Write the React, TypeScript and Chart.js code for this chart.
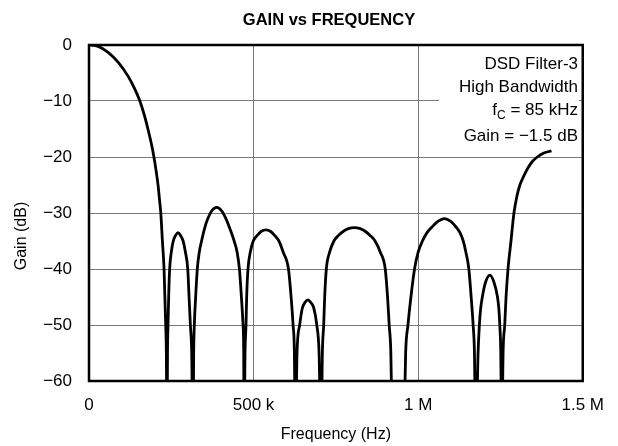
import React, { useEffect, useRef } from 'react';
import { Chart, registerables } from 'chart.js';

Chart.register(...registerables);

// Frequency in kHz and gain in dB (null = below the plot, gap)
const freqKHz: number[] = [
  // main lobe
  0, 3, 28, 58, 89, 119, 137, 154, 168, 179, 189, 197, 204, 210, 214, 218, 223, 228, 233, 235, 237,
  // lobe 2
  238.5, 240, 242, 245, 250, 256, 263, 270, 278, 286, 293, 300, 304, 308, 312, 316,
  // lobe 3
  318, 320, 324, 329, 335, 342, 351, 361, 373, 388, 403, 416, 428, 441, 450, 457, 463, 468, 470, 471,
  // lobe 4
  474, 477, 479, 483, 490, 499, 511, 523, 537, 552, 564, 577, 590, 606, 614, 620, 624, 627,
  // lobe 5
  632, 640, 648, 656, 665, 674, 683, 692, 699, 705,
  // lobe 6
  709, 713, 716, 721, 731, 744, 758, 772, 788, 806, 824, 840, 854, 869, 885, 900, 907, 912, 917, 922,
  939,
  // lobe 7
  956, 962, 969, 978, 989, 1000, 1013, 1027, 1042, 1060, 1080, 1099, 1115, 1127, 1137, 1145, 1154, 1161, 1167, 1171, 1175,
  // lobe 8
  1182, 1186, 1190, 1195, 1204, 1218, 1231, 1241, 1245, 1248, 1251, 1254,
  // final rise
  1258, 1263, 1267, 1273, 1282, 1291, 1300, 1309, 1320, 1333, 1347, 1362, 1382, 1405,
];
const gainDb: (number | null)[] = [
  0, 0, -0.24, -1.3, -3.1, -5.6, -7.6, -9.9, -12.5, -15, -17.5, -19.9, -22.5, -25.1, -27.5, -29.9, -35, -40, -50, -55, -72,
  -55, -50, -45, -40, -37, -35, -34, -33.5, -34, -35, -37, -40, -45, -50, -55, -72,
  -55, -50, -45, -40, -37, -35, -32.8, -31, -29.6, -29, -29.6, -31, -32.8, -35, -37, -40, -45, -50, -55, -72,
  -55, -50, -45, -40, -37, -35, -34, -33.3, -33, -33.3, -34, -35, -37, -40, -45, -50, -55, -72,
  -55, -50, -47, -46, -45.5, -46, -47, -50, -55, -72,
  -55, -50, -45, -40, -37, -35, -34, -33.3, -32.8, -32.6, -32.8, -33.3, -34, -35, -37, -40, -45, -50, -55, -72,
  null,
  -72, -55, -50, -45, -40, -37, -35, -33.5, -32.5, -31.5, -31, -31.5, -32.5, -33.5, -35, -37, -40, -45, -50, -55, -72,
  -55, -50, -47, -45, -42.5, -41.1, -42.5, -45, -47, -50, -55, -72,
  -55, -50, -45, -40, -35, -30, -27, -25, -23.5, -22, -20.8, -20, -19.3, -18.9,
];

const xTickValues = [0, 500000, 1000000, 1500000];
const xTickLabels = ['0', '500 k', '1 M', '1.5 M'];
const yTickValues = [0, -10, -20, -30, -40, -50, -60];
const yTickLabels = ['0', '\u221210', '\u221220', '\u221230', '\u221240', '\u221250', '\u221260'];

const chartTitle = 'GAIN vs FREQUENCY';
const xTitle = 'Frequency (Hz)';
const yTitle = 'Gain (dB)';
const noteLine1 = 'DSD Filter-3';
const noteLine2 = 'High Bandwidth';
const noteLine3Main = 'f';
const noteLine3Sub = 'C';
const noteLine3Rest = ' = 85 kHz';
const noteLine4 = 'Gain = \u22121.5 dB';

const FONT = '"Liberation Sans", Arial, Helvetica, sans-serif';

export default function App() {
  const ref = useRef<HTMLCanvasElement | null>(null);

  useEffect(() => {
    const canvas = ref.current;
    if (!canvas) return;
    const points = freqKHz.map((f, i) => ({ x: f * 1000, y: gainDb[i] }));

    const decor = {
      id: 'decor',
      beforeDatasetsDraw(chart: any) {
        const ctx = chart.ctx;
        ctx.save();
        ctx.fillStyle = '#ffffff';
        ctx.fillRect(439, 48, 140, 100);
        ctx.restore();
      },
      afterDatasetsDraw(chart: any) {
        const ctx = chart.ctx;
        const a = chart.chartArea;
        ctx.save();
        ctx.strokeStyle = '#000';
        ctx.lineWidth = 2.5;
        ctx.strokeRect(a.left, a.top, a.right - a.left, a.bottom - a.top);
        ctx.restore();
      },
      afterDraw(chart: any) {
        const ctx = chart.ctx;
        ctx.save();
        ctx.fillStyle = '#000';
        // Title
        ctx.font = `bold 16.5px ${FONT}`;
        ctx.textAlign = 'center';
        ctx.textBaseline = 'middle';
        ctx.fillText(chartTitle, 329, 20);
        // Y title
        ctx.save();
        ctx.translate(22, 236);
        ctx.rotate(-Math.PI / 2);
        ctx.font = `16px ${FONT}`;
        ctx.textAlign = 'center';
        ctx.textBaseline = 'middle';
        ctx.fillText(yTitle, 0, 0);
        ctx.restore();
        // Note block
        const rx = 578;
        ctx.font = `17px ${FONT}`;
        ctx.textAlign = 'right';
        ctx.textBaseline = 'alphabetic';
        ctx.fillText(noteLine1, rx, 69);
        ctx.fillText(noteLine2, rx, 92);
        ctx.fillText(noteLine4, rx, 141);
        // fC line
        const restW = ctx.measureText(noteLine3Rest).width;
        ctx.fillText(noteLine3Rest, rx, 115);
        ctx.font = `12px ${FONT}`;
        const subW = ctx.measureText(noteLine3Sub).width;
        ctx.fillText(noteLine3Sub, rx - restW, 119);
        ctx.font = `17px ${FONT}`;
        ctx.fillText(noteLine3Main, rx - restW - subW, 115);
        ctx.restore();
      },
    };

    const tickFont = { family: FONT, size: 17 };

    const chart = new Chart(canvas, {
      type: 'line',
      data: {
        datasets: [
          {
            data: points as any,
            borderColor: '#000',
            borderWidth: 2.8,
            pointRadius: 0,
            cubicInterpolationMode: 'monotone',
            spanGaps: false,
            fill: false,
          },
        ],
      },
      options: {
        animation: false,
        responsive: false,
        maintainAspectRatio: false,
        events: [],
        layout: { padding: { top: 45, right: 33, left: 0, bottom: 0 } },
        plugins: {
          legend: { display: false },
          title: { display: false },
          tooltip: { enabled: false },
        },
        scales: {
          x: {
            type: 'linear',
            min: 0,
            max: 1500000,
            afterBuildTicks: (s: any) => {
              s.ticks = xTickValues.map((v) => ({ value: v }));
            },
            afterFit: (s: any) => {
              s.height = 65;
            },
            ticks: {
              autoSkip: false,
              maxRotation: 0,
              padding: 14,
              color: '#000',
              font: tickFont,
              callback: (v: any) => {
                const i = xTickValues.indexOf(Number(v));
                return i >= 0 ? xTickLabels[i] : '';
              },
            },
            grid: { color: '#7a7a7a', lineWidth: 1, drawTicks: false },
            border: { display: false },
            title: {
              display: true,
              text: xTitle,
              color: '#000',
              font: { family: FONT, size: 16 },
              padding: { top: 0, bottom: 2 },
            },
          },
          y: {
            type: 'linear',
            min: -60,
            max: 0,
            afterBuildTicks: (s: any) => {
              s.ticks = yTickValues.map((v) => ({ value: v }));
            },
            afterFit: (s: any) => {
              s.width = 89;
            },
            ticks: {
              autoSkip: false,
              padding: 17,
              color: '#000',
              font: tickFont,
              callback: (v: any) => {
                const i = yTickValues.indexOf(Number(v));
                return i >= 0 ? yTickLabels[i] : '';
              },
            },
            grid: { color: '#7a7a7a', lineWidth: 1, drawTicks: false },
            border: { display: false },
          },
        },
      },
      plugins: [decor],
    } as any);

    return () => chart.destroy();
  }, []);

  return (
    <div style={{ position: 'absolute', left: 0, top: 0, width: 618, height: 446, background: '#fff' }}>
      <canvas ref={ref} width={618} height={446} style={{ display: 'block' }} />
    </div>
  );
}
